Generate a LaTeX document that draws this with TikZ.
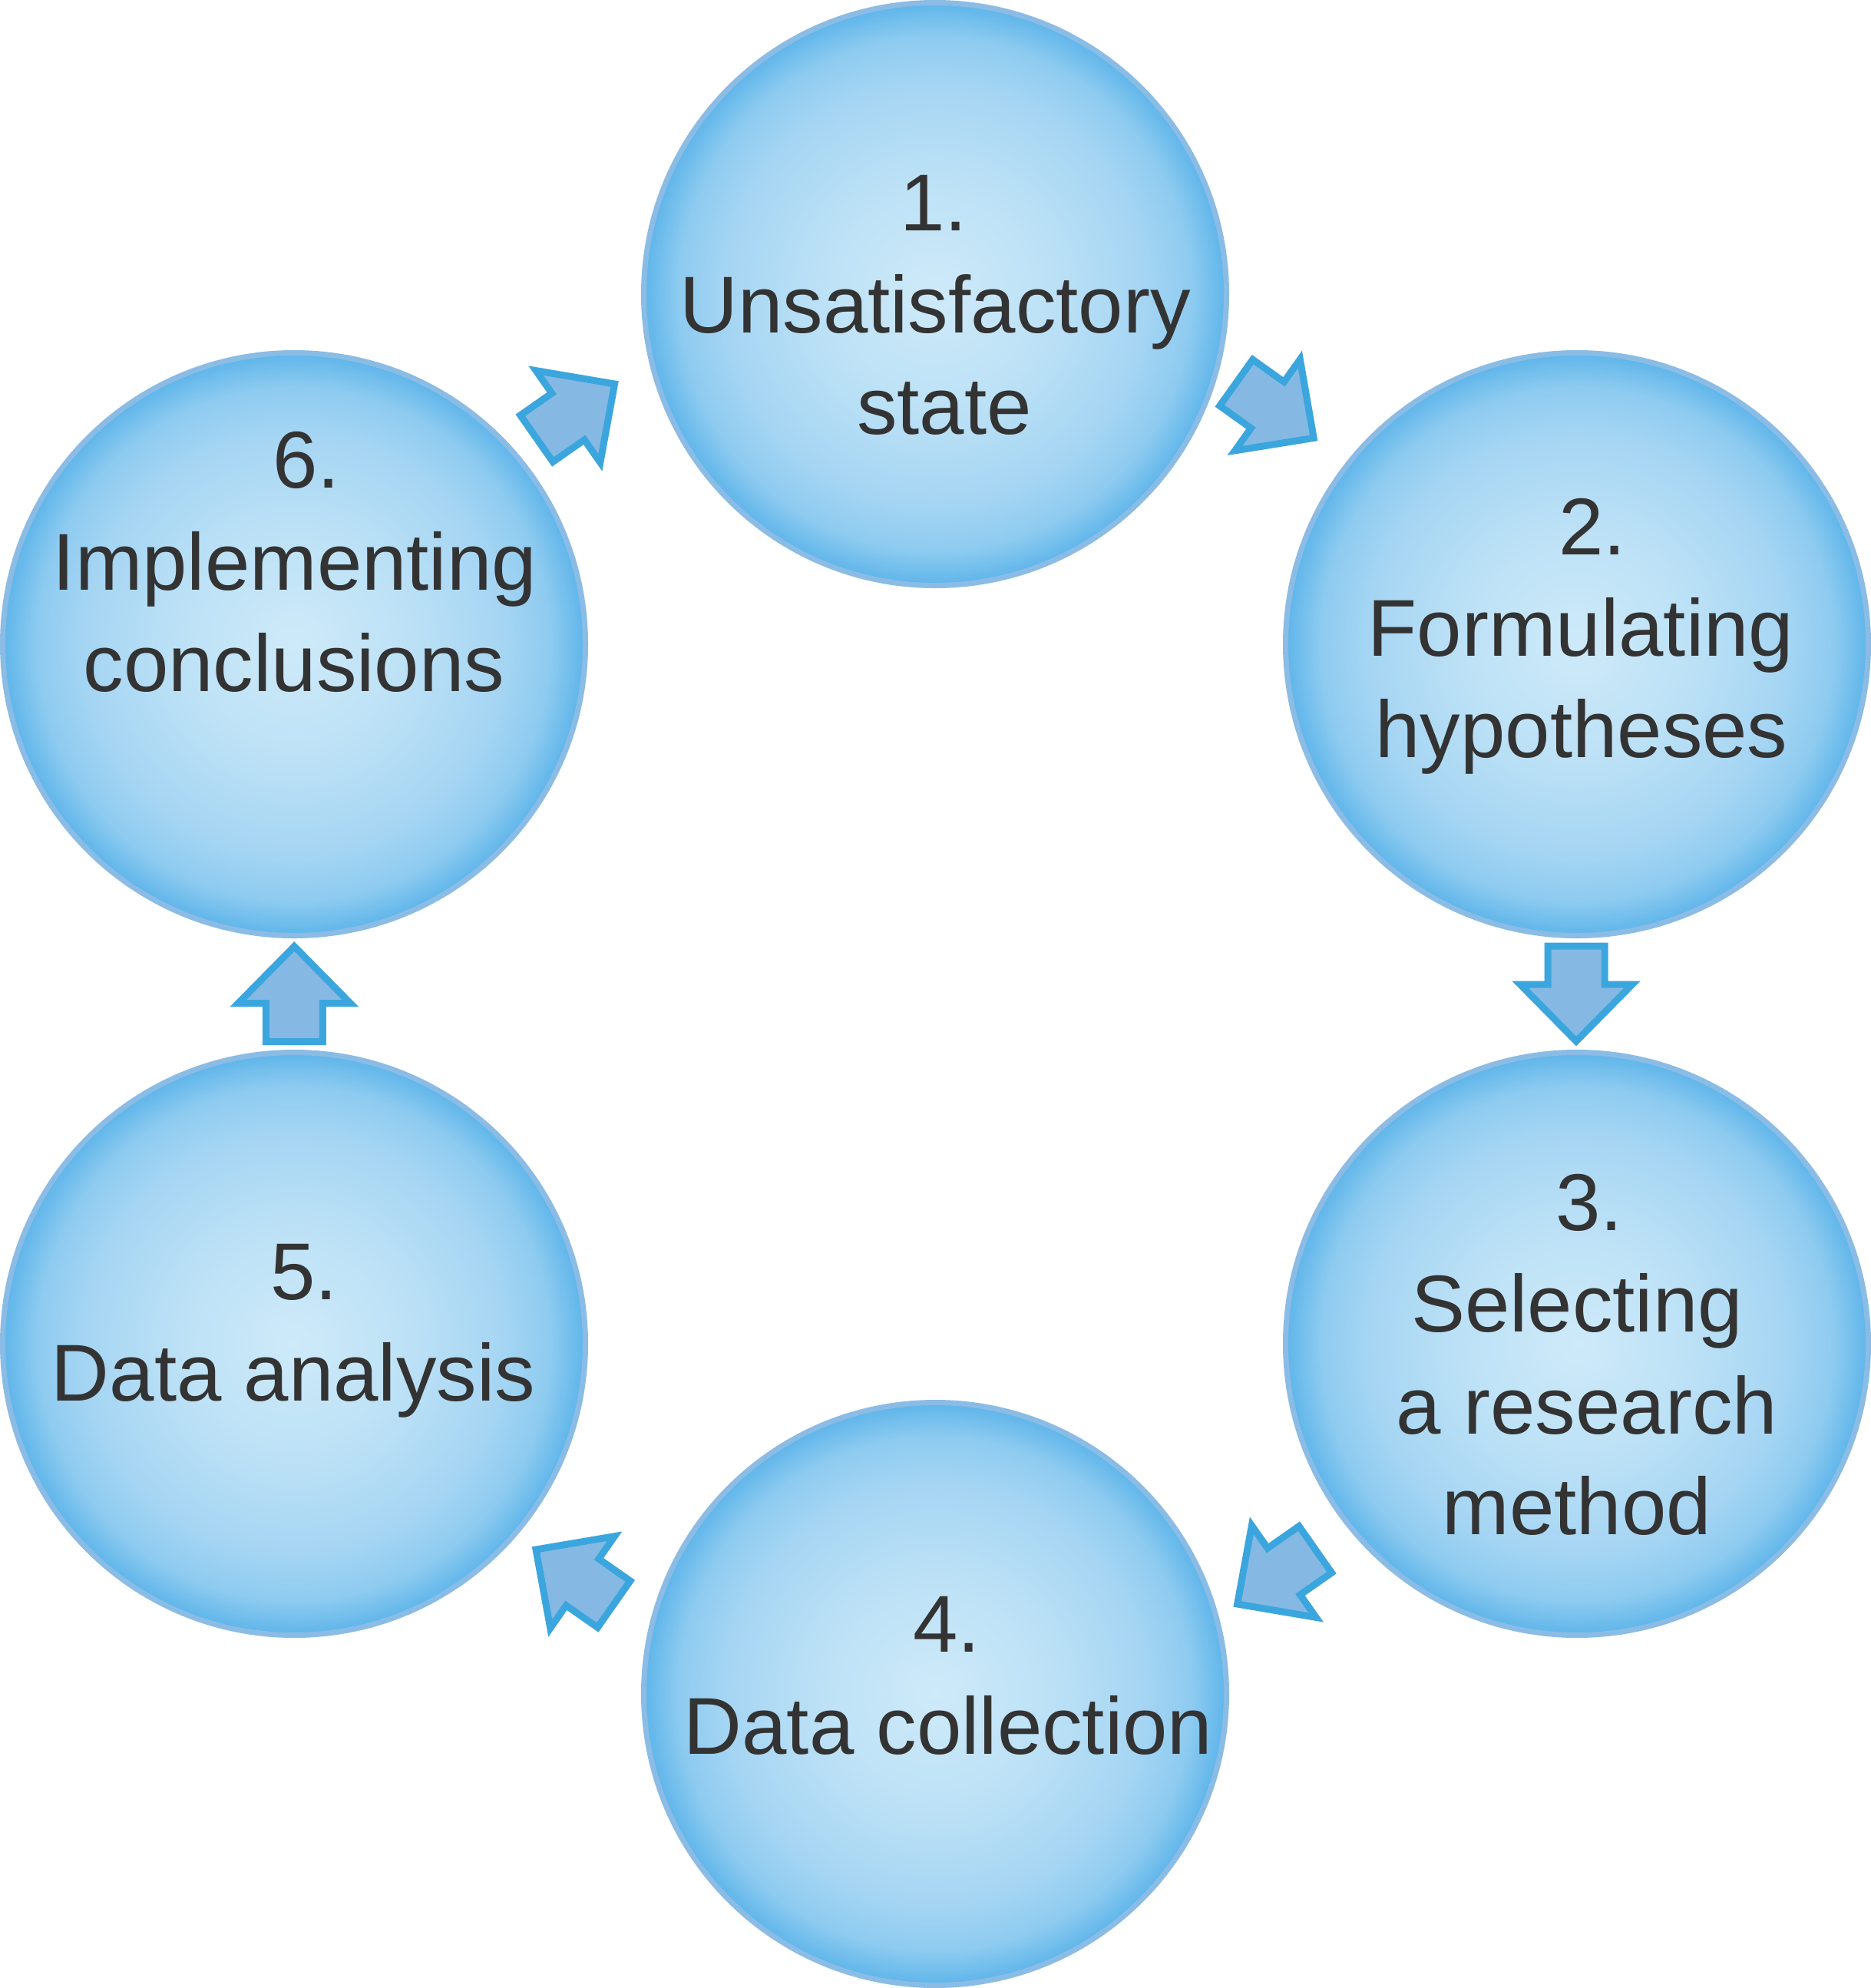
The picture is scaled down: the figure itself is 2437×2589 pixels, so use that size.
\documentclass[tikz,border=0pt]{standalone}
\usepackage{fontspec}
\setmainfont{Liberation Sans}
\definecolor{ballA}{RGB}{206,234,249}
\definecolor{ballB}{RGB}{188,225,246}
\definecolor{ballC}{RGB}{165,213,243}
\definecolor{ballD}{RGB}{142,203,240}
\definecolor{ballE}{RGB}{94,181,234}
\definecolor{ringblue}{RGB}{138,188,229}
\definecolor{arrowfillc}{RGB}{133,185,227}
\definecolor{arrowline}{RGB}{59,166,222}
\definecolor{textgray}{RGB}{51,51,51}
\pgfdeclareradialshading{ballshade}{\pgfpoint{0bp}{0bp}}{color(0bp)=(ballA); color(10bp)=(ballB); color(18bp)=(ballC); color(22bp)=(ballD); color(25bp)=(ballE); color(50bp)=(ballE)}
\tikzset{
  ball/.style={circle, minimum size=759bp, inner sep=0pt, draw=ringblue, line width=7bp, shade, shading=ballshade},
  lbl/.style={anchor=base, inner sep=0pt, text=textgray, font=\fontsize{105bp}{132bp}\selectfont},
  arrowbody/.style={fill=arrowfillc, draw=arrowline, line width=9bp, line join=miter},
  blockarrow/.pic={\path[arrowbody] (-63,-37) -- (-13,-37) -- (-13,-73) -- (61,0) -- (-13,73) -- (-13,37) -- (-63,37) -- cycle;}
}
\begin{document}
\begin{tikzpicture}[x=1bp,y=-1bp]
\fill[white] (0,0) rectangle (2437,2589);
\useasboundingbox (0,0) rectangle (2437,2589);
% circles
\node[ball] (c1) at (1218,383) {};
\node[ball] (c2) at (2054,839) {};
\node[ball] (c3) at (2054,1750) {};
\node[ball] (c4) at (1218,2206) {};
\node[ball] (c5) at (383,1750) {};
\node[ball] (c6) at (383,839) {};
% labels
\node[lbl] (t1a) at (1216,300) {1.};
\node[lbl] (t1b) at (1218,433) {Unsatisfactory};
\node[lbl] (t1c) at (1230,565) {state};
\node[lbl] (t2a) at (2074,722) {2.};
\node[lbl] (t2b) at (2059,854) {Formulating};
\node[lbl] (t2c) at (2060,986) {hypotheses};
\node[lbl] (t3a) at (2070,1602) {3.};
\node[lbl] (t3b) at (2054,1734) {Selecting};
\node[lbl] (t3c) at (2067,1867) {a research};
\node[lbl] (t3d) at (2054,1998) {method};
\node[lbl] (t4a) at (1233,2151) {4.};
\node[lbl] (t4b) at (1235,2284) {Data collection};
\node[lbl] (t5a) at (396,1692) {5.};
\node[lbl] (t5b) at (382,1824) {Data analysis};
\node[lbl] (t6a) at (399,635) {6.};
\node[lbl] (t6b) at (384,768) {Implementing};
\node[lbl] (t6c) at (383,900) {conclusions};
% arrows
\coordinate (a12) at (1661.5,535);
\coordinate (a23) at (2053,1295);
\coordinate (a34) at (1661.6,2054);
\coordinate (a45) at (748,2053);
\coordinate (a56) at (383.3,1293.5);
\coordinate (a61) at (750.6,535);
\pic[rotate=-35.5] at (a12) {blockarrow};
\pic[rotate=-90] at (a23) {blockarrow};
\pic[rotate=-145] at (a34) {blockarrow};
\pic[rotate=145] at (a45) {blockarrow};
\pic[rotate=90] at (a56) {blockarrow};
\pic[rotate=35] at (a61) {blockarrow};
\end{tikzpicture}
\end{document}
